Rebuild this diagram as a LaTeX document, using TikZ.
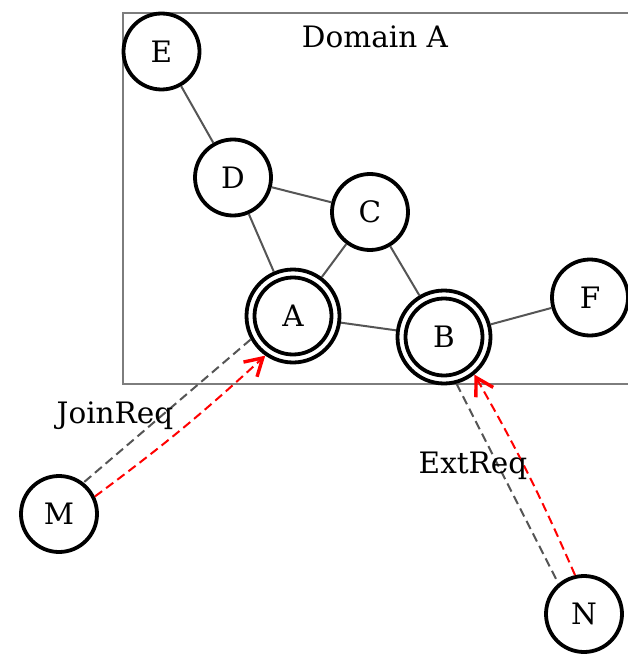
\documentclass[tikz,border=0pt]{standalone}
\usepackage{fontspec}
\setmainfont{DejaVu Serif}
\usetikzlibrary{arrows.meta}

\definecolor{edgegray}{RGB}{85,85,85}
\definecolor{boxgray}{RGB}{125,125,125}

\begin{document}
\begin{tikzpicture}[x=1pt,y=-1pt,
  state/.style={circle, draw=black, line width=3.8pt, minimum size=76pt,
    inner sep=0pt, font=\fontsize{29.5}{34}\selectfont},
  accept/.style={state, minimum size=93pt},
  link/.style={draw=edgegray, line width=2pt},
  softlink/.style={draw=edgegray, line width=2pt, dash pattern=on 9pt off 5pt},
  req/.style={draw=red, line width=2pt, dash pattern=on 9pt off 5pt,
    -{Straight Barb[length=17pt,width=20pt,line width=3.4pt]}},
  tag/.style={font=\fontsize{29.5}{34}\selectfont, inner sep=0pt}]

\useasboundingbox (0,0) rectangle (628,655);

% domain frame (its right side runs past the page edge)
\draw[boxgray, line width=2.2pt] (640,13) -- (123,13) -- (123,384) -- (640,384);
\node[tag] (dom) at (375,37) {Domain A};

% nodes
\node[state]  (E) at (161.5,51.5) {E};
\node[state]  (D) at (233,177.5) {D};
\node[state]  (C) at (370,212) {C};
\node[accept] (A) at (293,316) {A};
\node[accept] (B) at (444,337) {B};
\node[state]  (F) at (590,297.5) {F};
\node[state]  (M) at (59,514) {M};
\node[state]  (N) at (584,614) {N};

% inner rings of the double circles
\draw[line width=3.8pt] (A.center) circle[radius=38.5];
\draw[line width=3.8pt] (B.center) circle[radius=38.5];

% links inside the domain
\draw[link] (E) -- (D);
\draw[link] (D) -- (C);
\draw[link] (D) -- (A);
\draw[link] (C) -- (A);
\draw[link] (C) -- (B);
\draw[link] (A) -- (B);
\draw[link] (B) -- (F);

% outside links and requests
\draw[softlink] (A.209) -- (M.52);
\draw[softlink] (B.285) -- (N.130);
\draw[req] (M.26) to[bend right=3] (A.235);
\draw[req] (N.103) to[bend right=3] (B.309);

\node[tag] (jr) at (115,416) {JoinReq};
\node[tag] (er) at (473,466) {ExtReq};
\end{tikzpicture}
\end{document}
